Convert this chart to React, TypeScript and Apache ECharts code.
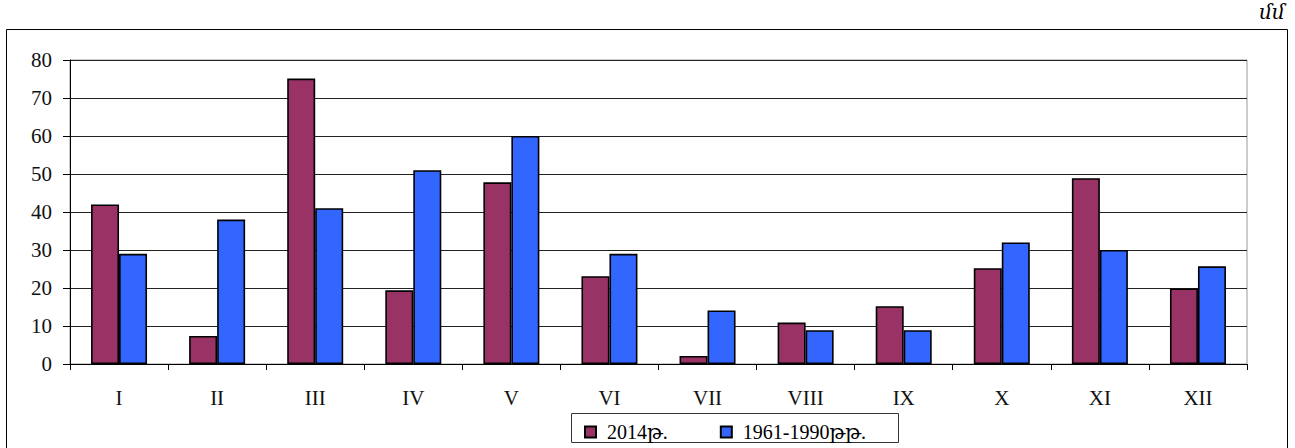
import React, { useEffect, useRef } from "react";
import * as echarts from "echarts";

const months = ["I", "II", "III", "IV", "V", "VI", "VII", "VIII", "IX", "X", "XI", "XII"];
const series2014 = [42, 7.4, 75.1, 19.4, 47.8, 23.1, 2.1, 10.9, 15.2, 25.2, 48.9, 19.9];
const seriesNorm = [29, 38, 41, 51, 60, 29, 14.1, 8.9, 8.9, 32, 30, 25.7];
const seriesNames = ["2014թ.", "1961-1990թթ."];
const unitLabel = "մմ";

const FONT = "'Liberation Serif', 'DejaVu Serif', serif";

export default function App() {
  const ref = useRef<HTMLDivElement>(null);
  useEffect(() => {
    if (!ref.current) return;
    const chart = echarts.init(ref.current, null, { renderer: "svg" });
    chart.setOption({
      animation: false,
      backgroundColor: "#fff",
      textStyle: { fontFamily: FONT, color: "#000" },
      grid: {
        left: 70,
        right: 48,
        top: 60,
        bottom: 84,
        show: true,
        borderColor: "#999",
        borderWidth: 1,
        backgroundColor: "transparent",
      },
      legend: {
        left: 584,
        top: 422,
        itemWidth: 11,
        itemHeight: 11,
        itemGap: 52,
        icon: "rect",
        padding: 0,
        textStyle: { fontFamily: FONT, fontSize: 20, color: "#000", padding: [0, 0, 0, 6] },
        data: seriesNames,
      },
      xAxis: {
        type: "category",
        data: months,
        axisLine: { lineStyle: { color: "#000", width: 1 } },
        axisTick: { show: true, length: 6, alignWithLabel: false, lineStyle: { color: "#000" } },
        axisLabel: { fontFamily: FONT, fontSize: 21, color: "#111", margin: 23 },
        splitLine: { show: false },
      },
      yAxis: {
        type: "value",
        min: 0,
        max: 80,
        interval: 10,
        axisLine: { show: true, lineStyle: { color: "#000", width: 1 } },
        axisTick: { show: true, length: 7, lineStyle: { color: "#000" } },
        axisLabel: { fontFamily: FONT, fontSize: 21, color: "#111", margin: 18 },
        splitLine: { show: true, lineStyle: { color: "#222", width: 1 } },
      },
      series: [
        {
          name: seriesNames[0],
          type: "bar",
          data: series2014,
          barWidth: 28,
          barGap: "0%",
          itemStyle: { color: "#993366", borderColor: "#000", borderWidth: 1.6 },
        },
        {
          name: seriesNames[1],
          type: "bar",
          data: seriesNorm,
          barWidth: 28,
          barGap: "0%",
          itemStyle: { color: "#3366FF", borderColor: "#000", borderWidth: 1.6 },
        },
      ],
      graphic: [
        {
          type: "rect",
          shape: { x: 6.5, y: 29.5, width: 1281, height: 430 },
          style: { fill: "none", stroke: "#000", lineWidth: 1 },
          silent: true,
        },
        {
          type: "rect",
          shape: { x: 571.5, y: 413.5, width: 327, height: 29 },
          style: { fill: "none", stroke: "#333", lineWidth: 1 },
          silent: true,
        },
        {
          type: "text",
          x: 1285,
          y: 2,
          style: {
            text: unitLabel,
            fontFamily: FONT,
            fontStyle: "italic",
            fontSize: 20,
            fill: "#000",
            align: "right",
            verticalAlign: "top",
          },
        },
      ],
    });
    return () => chart.dispose();
  }, []);
  return (
    <div
      ref={ref}
      style={{ position: "fixed", left: 0, top: 0, width: 1295, height: 448, background: "#fff" }}
    />
  );
}
